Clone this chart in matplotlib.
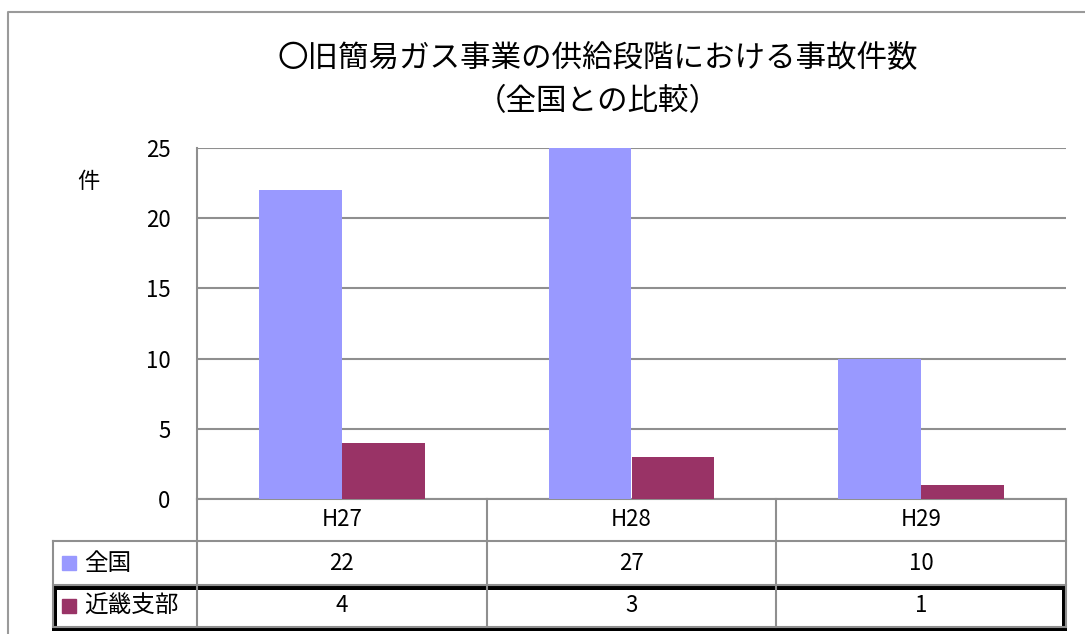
"""
Supply-stage accident counts of former small gas businesses (nationwide vs Kinki)
"""

import numpy as np
from matplotlib import pyplot as plt
from matplotlib.patches import Rectangle

plt.rcParams['font.family'] = ['Noto Sans CJK JP', 'DejaVu Sans']

years = ["H27", "H28", "H29"]
series_names = ["全国", "近畿支部"]
zenkoku = [22, 27, 10]
kinki = [4, 3, 1]
colors = ["#9999FF", "#993366"]
title_lines = ["〇旧簡易ガス事業の供給段階における事故件数", "（全国との比較）"]
yticks = [0, 5, 10, 15, 20, 25]

W, H = 1085, 634
fig = plt.figure(figsize=(W/100, H/100), dpi=100)

def fx(px):
    return px / W

def fy(py):
    return 1 - py / H

# plot area in pixels
left, right, top, bottom = 197, 1066, 148, 499
ax = fig.add_axes([fx(left), fy(bottom), fx(right - left), (bottom - top) / H])

grid_c = "#8f8f8f"
fs = 16
x = np.arange(len(years))
w = 1 / 3.5
ax.bar(x - w/2, zenkoku, w, color=colors[0], zorder=3)
ax.bar(x + w/2, kinki, w, color=colors[1], zorder=3)

ax.set_xlim(-0.5, len(years) - 0.5)
ax.set_ylim(0, 25)
ax.set_yticks(yticks)
ax.set_xticks([])
ax.yaxis.grid(True, color=grid_c, lw=1.5, zorder=0)
ax.tick_params(axis="y", length=0, pad=19, labelsize=fs)
for s in ["top", "right"]:
    ax.spines[s].set_visible(False)
for s in ["left", "bottom"]:
    ax.spines[s].set_color(grid_c)
    ax.spines[s].set_linewidth(1.5)

# outer chart frame
fig.add_artist(plt.Line2D([fx(7.5), fx(7.5), fx(1100)], [fy(700), fy(11.5), fy(11.5)],
                          color="#9a9a9a", lw=1.5))

# title and unit
fig.text(fx(598), fy(58), title_lines[0], ha="center", va="center", fontsize=22)
fig.text(fx(598), fy(102), title_lines[1], ha="center", va="center", fontsize=22)
fig.text(fx(88), fy(182), "件", ha="center", va="center", fontsize=fs)

# data table below the axis
col_edges = [left + i * (right - left) / len(years) for i in range(len(years) + 1)]
row_edges = [bottom, 541, 585, 627]
tbl_left = 53

def hline(y, x0, x1):
    fig.add_artist(plt.Line2D([fx(x0), fx(x1)], [fy(y), fy(y)], color=grid_c, lw=1.5))

def vline(xp, y0, y1):
    fig.add_artist(plt.Line2D([fx(xp), fx(xp)], [fy(y0), fy(y1)], color=grid_c, lw=1.5))

for ce in col_edges:
    vline(ce, row_edges[0], row_edges[-1])
vline(tbl_left, row_edges[1], row_edges[-1])
for re in row_edges[1:]:
    hline(re, tbl_left, right)

for i, yr in enumerate(years):
    cx = (col_edges[i] + col_edges[i+1]) / 2
    fig.text(fx(cx), fy((row_edges[0] + row_edges[1]) / 2), yr, ha="center", va="center", fontsize=fs)
    for r, vals in enumerate([zenkoku, kinki]):
        cy = (row_edges[r+1] + row_edges[r+2]) / 2
        fig.text(fx(cx), fy(cy), str(vals[i]), ha="center", va="center", fontsize=fs)

for r, name in enumerate(series_names):
    cy = (row_edges[r+1] + row_edges[r+2]) / 2
    fig.add_artist(Rectangle((fx(62), fy(cy + 7)), fx(14), 14 / H, color=colors[r]))
    fig.text(fx(84), fy(cy), name, ha="left", va="center", fontsize=17)

# highlight frame around the Kinki row
fig.add_artist(Rectangle((fx(54), fy(628)), fx(1064 - 54), (628 - 586.5) / H,
                         fill=False, ec="black", lw=3.6))

fig.savefig("out.png", dpi=100, facecolor="white")
